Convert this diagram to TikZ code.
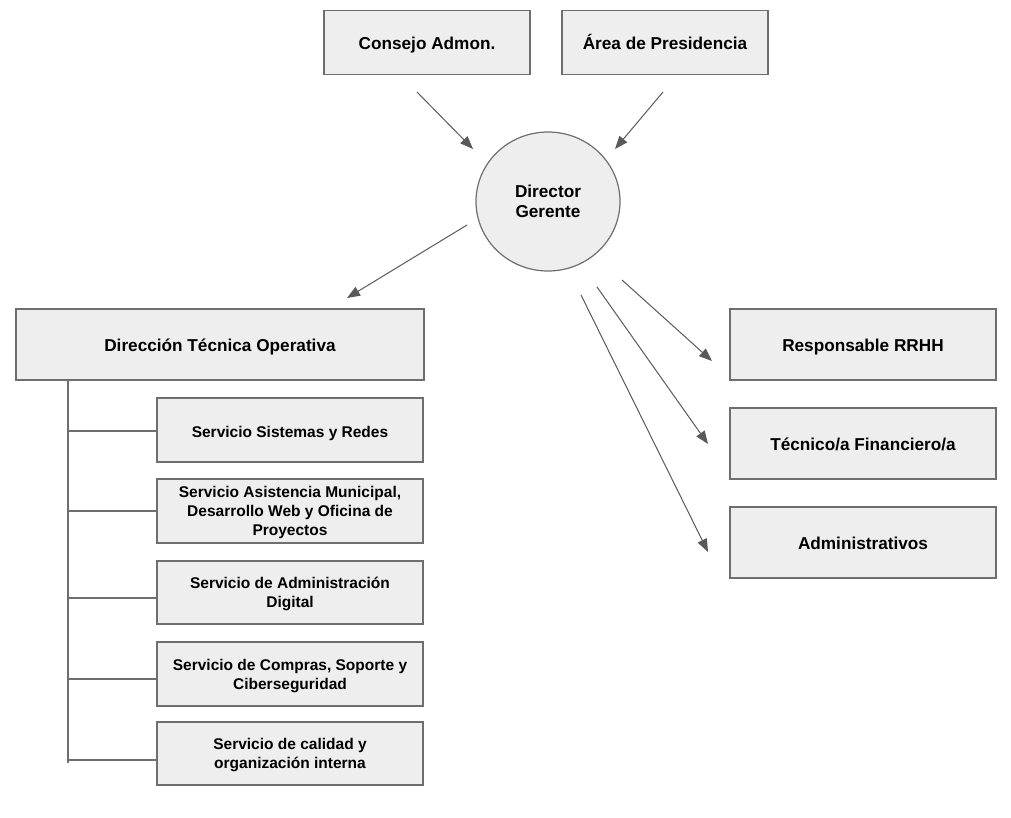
\documentclass[tikz,border=0pt]{standalone}
\usepackage{fontspec}
\setmainfont{Liberation Sans}
\usetikzlibrary{shapes.geometric,arrows.meta}
\definecolor{boxfill}{HTML}{EEEEEE}
\definecolor{boxline}{HTML}{6E6E6E}
\definecolor{arrowc}{HTML}{595959}
\tikzset{
  box/.style={draw=boxline, fill=boxfill, line width=1.2pt, inner sep=0pt, align=center,
    font=\fontsize{17.2}{20.5}\selectfont\bfseries,
    execute at begin node={\rule{0pt}{18pt}},
    execute at end node={\rule[-4pt]{0pt}{4pt}}},
  ml/.style={text depth=-2pt},
  sbox/.style={box, font=\fontsize{15.5}{19}\selectfont\bfseries},
  arr/.style={draw=arrowc, line width=1pt, -{Triangle[length=13pt,width=10pt]}},
  tree/.style={draw=boxline, line width=1.2pt},
}
\begin{document}
\begin{tikzpicture}[x=1pt,y=-1pt]
\useasboundingbox (0,0) rectangle (1011,817);
% top boxes
\node[box, minimum width=206pt, minimum height=64pt] (consejo) at (427,42.5) {Consejo Admon.};
\node[box, minimum width=206pt, minimum height=64pt] (area) at (665,42.5) {Área de Presidencia};
% director
\node[box, ml, ellipse, minimum width=144pt, minimum height=139pt] (dir) at (548,201.5) {Director\\Gerente};
% DTO
\node[box, minimum width=408pt, minimum height=71pt] (dto) at (220,344.5) {Dirección Técnica Operativa};
% services
\node[sbox, minimum width=266pt, minimum height=64pt] (s1) at (290,430) {Servicio Sistemas y Redes};
\node[sbox, ml, minimum width=266pt, minimum height=64pt] (s2) at (290,511) {Servicio Asistencia Municipal,\\Desarrollo Web y Oficina de\\Proyectos};
\node[sbox, ml, minimum width=266pt, minimum height=63pt] (s3) at (290,592.5) {Servicio de Administración\\Digital};
\node[sbox, ml, minimum width=266pt, minimum height=64pt] (s4) at (290,674) {Servicio de Compras, Soporte y\\Ciberseguridad};
\node[sbox, ml, minimum width=266pt, minimum height=63pt] (s5) at (290,753.5) {Servicio de calidad y\\organización interna};
% right boxes
\node[box, minimum width=266pt, minimum height=71pt] (rrhh) at (863,344.5) {Responsable RRHH};
\node[box, minimum width=266pt, minimum height=71pt] (tec) at (863,443.5) {Técnico/a Financiero/a};
\node[box, minimum width=266pt, minimum height=71pt] (adm) at (863,542.5) {Administrativos};
% arrow endpoints
\coordinate (a1s) at (417,92);  \coordinate (a1e) at (473,149);
\coordinate (a2s) at (663,92);  \coordinate (a2e) at (615,149);
\coordinate (a3s) at (467,225); \coordinate (a3e) at (347,298);
\coordinate (a4s) at (622,280); \coordinate (a4e) at (712,361);
\coordinate (a5s) at (597,287); \coordinate (a5e) at (708,444);
\coordinate (a6s) at (581,295); \coordinate (a6e) at (708,552);
\draw[arr] (a1s) -- (a1e);
\draw[arr] (a2s) -- (a2e);
\draw[arr] (a3s) -- (a3e);
\draw[arr] (a4s) -- (a4e);
\draw[arr] (a5s) -- (a5e);
\draw[arr] (a6s) -- (a6e);
% tree
\coordinate (trunktop) at (68,380);
\coordinate (trunkbot) at (68,763);
\draw[tree] (trunktop) -- (trunkbot);
\draw[tree] (68,431) -- (s1.west |- 68,431);
\draw[tree] (68,511) -- (s2.west |- 68,511);
\draw[tree] (68,598) -- (s3.west |- 68,598);
\draw[tree] (68,679) -- (s4.west |- 68,679);
\draw[tree] (68,760) -- (s5.west |- 68,760);
\end{tikzpicture}
\end{document}
